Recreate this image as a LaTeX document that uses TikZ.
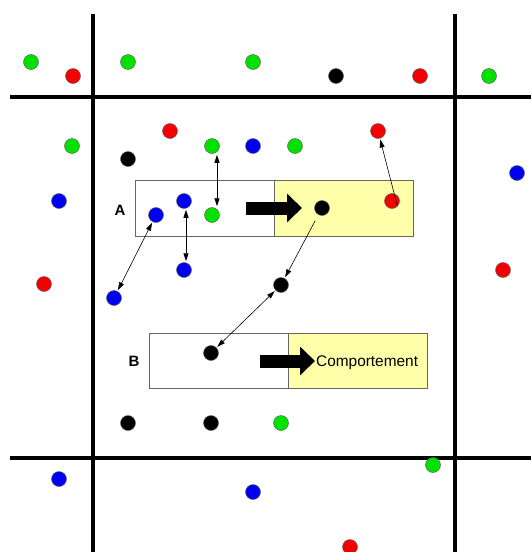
\documentclass[tikz,border=0pt]{standalone}
\usepackage{fontspec}
\setmainfont{Liberation Sans}
\usetikzlibrary{arrows.meta,positioning}

\definecolor{dotgreen}{RGB}{0,225,0}
\definecolor{dotred}{RGB}{245,0,0}
\definecolor{dotblue}{RGB}{0,0,240}
\definecolor{paleyellow}{RGB}{255,255,170}

\tikzset{
  dot/.style={circle, draw=black!60, line width=.5pt, minimum size=15pt, inner sep=0pt},
  halfbox/.style={rectangle, draw=black!60, line width=.8pt, anchor=north west, inner sep=0pt},
  thinarrow/.style={line width=.6pt, -{Triangle[length=8pt,width=5pt]}, shorten >=1pt, shorten <=1pt},
  bigarrow/.style={line width=13pt, -{Triangle[length=15pt,width=28pt]}},
  gridline/.style={line width=4pt}
}

\begin{document}
\begin{tikzpicture}[x=1pt, y=-1pt]
\useasboundingbox (0,0) rectangle (531,552);
% Grid
\draw[gridline] (93,14) -- (93,552);
\draw[gridline] (455,14) -- (455,552);
\draw[gridline] (10,97) -- (531,97);
\draw[gridline] (10,458) -- (531,458);
% Boxes
\node[halfbox, fill=white, minimum width=139pt, minimum height=56pt] (Aleft) at (135,180) {};
\node[halfbox, fill=paleyellow, minimum width=139pt, minimum height=56pt] (Aright) at (274,180) {};
\node[halfbox, fill=white, minimum width=139pt, minimum height=55pt] (Bleft) at (149,333) {};
\node[halfbox, fill=paleyellow, minimum width=139pt, minimum height=55pt] (Bright) at (288,333) {};
% Text
\node[font=\fontsize{15}{15}\selectfont\bfseries] (labA) at (120,210) {A};
\node[font=\fontsize{15}{15}\selectfont\bfseries] (labB) at (134,361) {B};
\node[font=\fontsize{15.4}{16}\selectfont, anchor=base west, inner sep=0pt] (comp) at (316,366) {Comportement};
% Big arrows
\draw[bigarrow] (246,208) -- (302,208);
\draw[bigarrow] (260,361) -- (315,361);
% Free dots
\foreach \nm/\col/\px/\py in {
  g1/dotgreen/31/62, r1/dotred/73/76, g2/dotgreen/128/62, g3/dotgreen/253/62,
  k1/black/336/76, r2/dotred/420/76, g4/dotgreen/489/76,
  r3/dotred/170/131, g5/dotgreen/72/146, k2/black/128/159, b1/dotblue/253/146,
  g6/dotgreen/295/146, b2/dotblue/517/173, b3/dotblue/59/201,
  r4/dotred/44/284, r5/dotred/503/270,
  k3/black/128/423, k4/black/211/423, g7/dotgreen/281/423, g8/dotgreen/433/465,
  b4/dotblue/59/479, b5/dotblue/253/492, r6/dotred/350/547}
  \node[dot, fill=\col] (\nm) at (\px,\py) {};
% Linked dots
\node[dot, fill=dotgreen] (gTop) at (212,146) {};
\node[dot, fill=dotgreen] (gA) at (212,215) {};
\node[dot, fill=dotblue] (bA1) at (156,215) {};
\node[dot, fill=dotblue] (bA2) at (184,201) {};
\node[dot, fill=dotblue] (bOut1) at (184,270) {};
\node[dot, fill=dotblue] (bOut2) at (114,298) {};
\node[dot, fill=dotred] (rTop) at (378,131) {};
\node[dot, fill=dotred] (rA) at (392,201) {};
\node[dot, fill=black] (kA) at (322,208) {};
\node[dot, fill=black] (kMid) at (281,285) {};
\node[dot, fill=black] (kB) at (211,353) {};
% Links
\draw[thinarrow, {Triangle[length=8pt,width=5pt]}-{Triangle[length=8pt,width=5pt]}] ([xshift=5pt]gTop.south) -- ([xshift=5pt]gA.north);
\draw[thinarrow, {Triangle[length=8pt,width=5pt]}-{Triangle[length=8pt,width=5pt]}] ([xshift=2pt]bA2.south) -- ([xshift=2pt]bOut1.north);
\draw[thinarrow, {Triangle[length=8pt,width=5pt]}-{Triangle[length=8pt,width=5pt]}] (bA1) -- (bOut2);
\draw[thinarrow] (rA.south east) -- (rTop);
\draw[thinarrow, shorten <=7pt] (kA) -- (kMid);
\draw[thinarrow, {Triangle[length=8pt,width=5pt]}-{Triangle[length=8pt,width=5pt]}] (kMid) -- (kB);
\end{tikzpicture}
\end{document}
